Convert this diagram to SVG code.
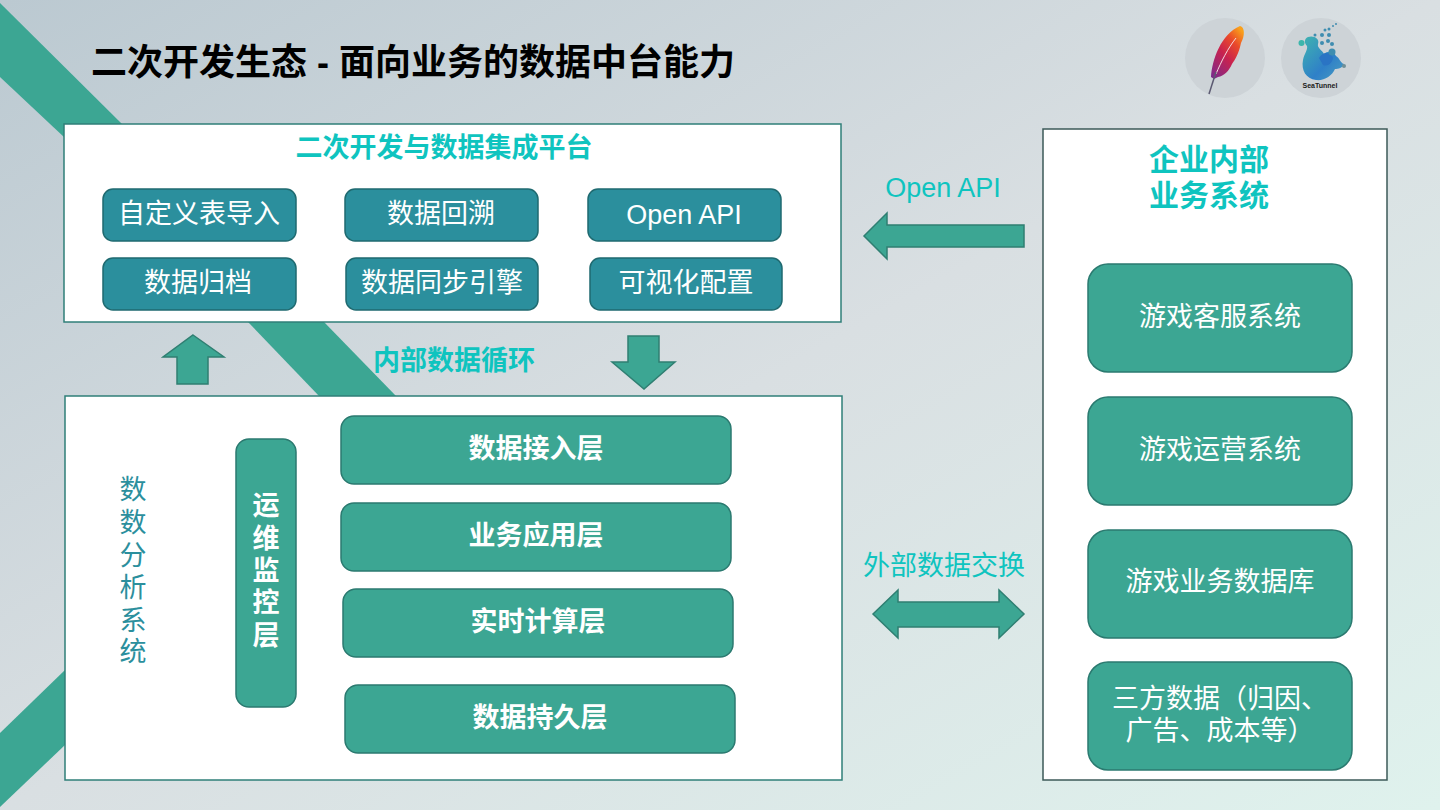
<svg xmlns="http://www.w3.org/2000/svg" width="1440" height="810" viewBox="0 0 1440 810">
<style>
text{font-family:"Liberation Sans","Noto Sans CJK SC",sans-serif;text-anchor:middle}
.panel{fill:#fff;stroke:#2f7f78;stroke-width:1.5}
.panel2{fill:#fff;stroke:#3c5a58;stroke-width:1.5}
.blue{fill:#2b8f9d;stroke:#1f6a70;stroke-width:1.5}
.green{fill:#3ca693;stroke:#2b7a70;stroke-width:1.5}
.arrow{fill:#3ca693;stroke:#2f7f72;stroke-width:1.5}
.band{fill:#3ca693}
.t24{font-size:27px;fill:#fff}
.b26{font-size:27px;fill:#fff;font-weight:700}
.cy{fill:#0fc4bf}
</style>
<defs>
<linearGradient id="bg" gradientUnits="userSpaceOnUse" x1="375" y1="-208" x2="1065" y2="1018"><stop offset="0" stop-color="#bbc9d1"/><stop offset=".5" stop-color="#d9dfe2"/><stop offset="1" stop-color="#dff2ed"/></linearGradient>
<linearGradient id="fe" x1=".1" y1="1" x2=".8" y2="0"><stop offset="0" stop-color="#7d2a8c"/><stop offset=".45" stop-color="#c8224f"/><stop offset=".75" stop-color="#ea4a2a"/><stop offset="1" stop-color="#f9a01b"/></linearGradient>
<linearGradient id="st" x1="0" y1="0" x2="1" y2="1"><stop offset="0" stop-color="#3fb4b0"/><stop offset=".6" stop-color="#2f80c8"/><stop offset="1" stop-color="#4a9fc0"/></linearGradient>
</defs>
<rect width="1440" height="810" fill="url(#bg)"/>
<g id="bands">
<polygon class="band" points="0,3 122,124 65,138 0,77"/>
<polygon class="band" points="248,322 324,322 396,396 319,396"/>
<polygon class="band" points="65,670 65,745 0,807 0,733"/>
</g>
<text x="413" y="75" font-size="36" font-weight="700" fill="#000">二次开发生态 - 面向业务的数据中台能力</text>
<g id="logo-apache">
<circle cx="1225" cy="58" r="40" fill="#cdd3d7"/>
<path d="M1240 26C1245 27 1245 36 1241 43C1239 53 1235 60 1232 64C1229 71 1224 76 1218 77L1214 79L1211 77C1212 60 1221 34 1240 26Z" fill="url(#fe)"/>
<path d="M1236 38C1228 48 1221 62 1216 74" fill="none" stroke="#f6dbe0" stroke-width="1"/>
<path d="M1209 94L1216 72" fill="none" stroke="#5b5a72" stroke-width="1.5"/>
</g>
<g id="logo-seatunnel">
<circle cx="1321" cy="58" r="40" fill="#cdd3d7"/>
<path d="M1308 37C1314 35 1320 39 1318 44C1317 48 1322 50 1324 54C1328 50 1334 52 1336 56C1340 58 1340 63 1344 64C1343 68 1338 69 1335 69C1332 76 1324 81 1316 80C1306 79 1301 70 1303 60C1304 54 1308 50 1307 46C1304 43 1304 39 1308 37Z" fill="url(#st)"/>
<path d="M1319 58C1323 51 1331 52 1333 58C1332 63 1328 67 1323 65Z" fill="#2a74c4"/>
<circle cx="1301.500" cy="43" r="3" fill="#3cb6ac"/><circle cx="1344" cy="66" r="2" fill="#6f8f98"/>
<g fill="#3f8db0"><circle cx="1332" cy="52" r="3.500"/><circle cx="1332" cy="44" r="2"/><circle cx="1322" cy="43" r="2"/><circle cx="1328" cy="41" r="2"/><circle cx="1322" cy="35" r="2"/><circle cx="1329" cy="35" r="2"/><circle cx="1325" cy="30" r="1.500"/><circle cx="1329" cy="29" r="1.500"/><circle cx="1315" cy="35" r="1.500"/><circle cx="1333" cy="26" r="1"/><circle cx="1336" cy="24" r="1"/></g>
<text x="1320" y="88" font-size="7" font-weight="700" fill="#1a1a1a">SeaTunnel</text>
</g>
<g id="connectors">
<polygon class="arrow" points="193,335 224,357 208,357 208,384 177,384 177,357 163,357"/>
<polygon class="arrow" points="628,336 659,336 659,362 675,362 644,389 612,362 628,362"/>
<polygon class="arrow" points="1024,225 1024,247 887,247 887,259 864,236 887,213 887,225"/>
<polygon class="arrow" points="873,614 898,590 898,602 999,602 999,590 1024,614 999,638 999,627 898,627 898,638"/>
</g>
<text x="943" y="197" font-size="27" class="cy">Open API</text>
<text x="944" y="575" font-size="27" class="cy">外部数据交换</text>
<text x="454" y="370" font-size="27" font-weight="700" class="cy">内部数据循环</text>
<g id="platform">
<rect class="panel" x="64" y="124" width="777" height="198"/>
<text x="444" y="157" font-size="27" font-weight="700" class="cy">二次开发与数据集成平台</text>
</g>
<g id="n1"><rect class="blue" x="103" y="189" width="193" height="52" rx="10"/><text class="t24" x="199" y="223">自定义表导入</text></g>
<g id="n2"><rect class="blue" x="345" y="189" width="193" height="52" rx="10"/><text class="t24" x="441" y="223">数据回溯</text></g>
<g id="n3"><rect class="blue" x="588" y="189" width="193" height="52" rx="10"/><text class="t24" x="684" y="224">Open API</text></g>
<g id="n4"><rect class="blue" x="103" y="258" width="193" height="52" rx="10"/><text class="t24" x="198" y="292">数据归档</text></g>
<g id="n5"><rect class="blue" x="346" y="258" width="192" height="52" rx="10"/><text class="t24" x="442" y="292">数据同步引擎</text></g>
<g id="n6"><rect class="blue" x="590" y="258" width="192" height="52" rx="10"/><text class="t24" x="686" y="292">可视化配置</text></g>
<g id="stack">
<rect class="panel" x="65" y="396" width="777" height="384"/>
<text font-size="27" fill="#2b8f9d"><tspan x="133" y="499">数</tspan><tspan x="133" y="532">数</tspan><tspan x="133" y="565">分</tspan><tspan x="133" y="597">析</tspan><tspan x="133" y="630">系</tspan><tspan x="133" y="661">统</tspan></text>
</g>
<g id="ops"><rect class="green" x="236" y="439" width="60" height="268" rx="13"/><text class="b26"><tspan x="266" y="515">运</tspan><tspan x="266" y="548">维</tspan><tspan x="266" y="580">监</tspan><tspan x="266" y="612">控</tspan><tspan x="266" y="645">层</tspan></text></g>
<g id="l1"><rect class="green" x="341" y="416" width="390" height="68" rx="13"/><text class="b26" x="536" y="458">数据接入层</text></g>
<g id="l2"><rect class="green" x="341" y="503" width="390" height="68" rx="13"/><text class="b26" x="536" y="545">业务应用层</text></g>
<g id="l3"><rect class="green" x="343" y="589" width="390" height="68" rx="13"/><text class="b26" x="538" y="631">实时计算层</text></g>
<g id="l4"><rect class="green" x="345" y="685" width="390" height="68" rx="13"/><text class="b26" x="540" y="727">数据持久层</text></g>
<g id="enterprise">
<rect class="panel2" x="1043" y="129" width="344" height="651"/>
<text font-size="30" font-weight="700" class="cy"><tspan x="1209" y="170">企业内部</tspan><tspan x="1209" y="206">业务系统</tspan></text>
</g>
<g id="s1"><rect class="green" x="1088" y="264" width="264" height="108" rx="20"/><text class="t24" x="1220" y="326">游戏客服系统</text></g>
<g id="s2"><rect class="green" x="1088" y="397" width="264" height="108" rx="20"/><text class="t24" x="1220" y="459">游戏运营系统</text></g>
<g id="s3"><rect class="green" x="1088" y="530" width="264" height="108" rx="20"/><text class="t24" x="1220" y="591">游戏业务数据库</text></g>
<g id="s4"><rect class="green" x="1088" y="662" width="264" height="108" rx="20"/><text class="t24"><tspan x="1220" y="708">三方数据（归因、</tspan><tspan x="1220" y="740">广告、成本等）</tspan></text></g>
</svg>
